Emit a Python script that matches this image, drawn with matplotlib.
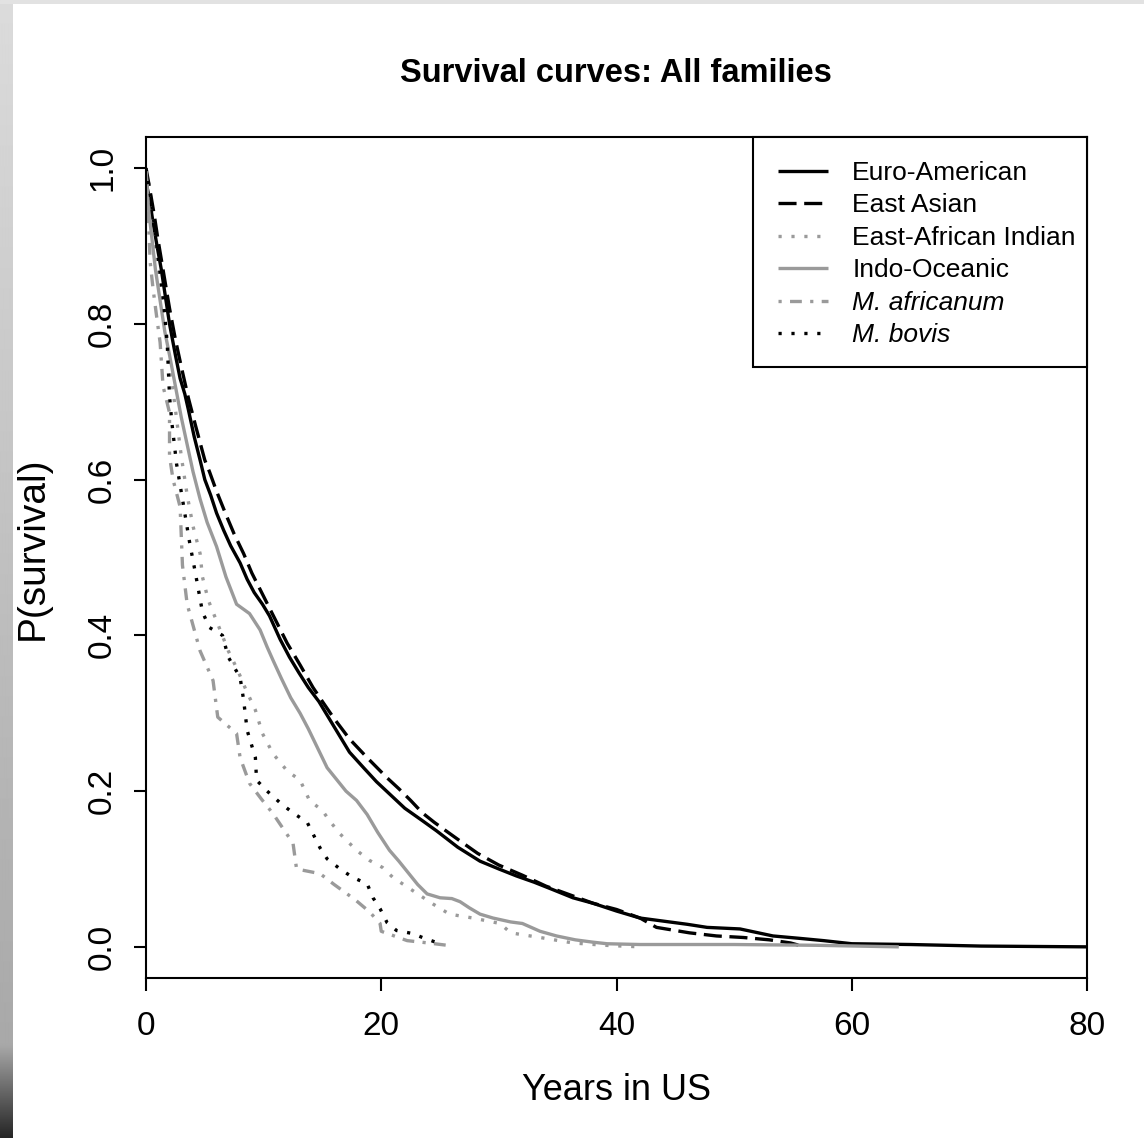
import numpy as np
import matplotlib
matplotlib.use("Agg")
import matplotlib.pyplot as plt
from matplotlib.patches import Rectangle

plt.rcParams['font.family'] = ['Liberation Sans', 'DejaVu Sans']
plt.rcParams['lines.scale_dashes'] = False

# Kaplan-Meier survival estimates by lineage (years in US, P(survival));
# a repeated time value marks a sharp drop in the estimate
euro_t = [0, 0.1, 0.3, 0.6, 0.94, 1.3, 1.7, 2.0, 2.5, 2.9, 3.3, 3.6, 4.1, 4.6, 5.0, 5.5,
          6.0, 6.6, 7.2, 8.0, 8.6, 9.2, 9.9, 10.5, 11.4, 12.2, 13.0, 13.8, 14.7, 15.5,
          16.5, 17.3, 18.5, 19.6, 20.8, 22.0, 23.5, 24.7, 26.5, 28.4, 30.0, 31.5, 33.0,
          34.5, 36.3, 38.0, 40.0, 42.0, 44.0, 46.0, 47.7, 50.5, 53.3, 55.5, 57.6, 60.0,
          65.0, 71.0, 80.0]
euro_s = [1.0, 0.975, 0.96, 0.93, 0.90, 0.87, 0.83, 0.80, 0.76, 0.73, 0.71, 0.69, 0.655,
          0.625, 0.60, 0.58, 0.557, 0.535, 0.515, 0.493, 0.472, 0.455, 0.44, 0.425, 0.395,
          0.372, 0.352, 0.333, 0.315, 0.295, 0.27, 0.25, 0.23, 0.212, 0.195, 0.178, 0.162,
          0.149, 0.128, 0.11, 0.10, 0.091, 0.083, 0.074, 0.063, 0.056, 0.046, 0.037, 0.033,
          0.029, 0.025, 0.023, 0.014, 0.011, 0.008, 0.004, 0.003, 0.001, 0.0]

asian_t = [0, 0.3, 0.7, 1.0, 1.5, 2.0, 2.5, 3.0, 3.6, 4.2, 5.0, 5.4, 6.0, 6.8, 7.5, 8.3,
           9.0, 10.0, 11.0, 12.0, 13.1, 14.2, 15.0, 16.0, 17.3, 18.8, 20.5, 21.5, 22.5,
           23.5, 24.5, 25.5, 26.7, 28.2, 30.0, 32.0, 34.0, 36.0, 38.0, 40.0, 42.0, 43.4,
           46.2, 48.5, 50.8, 53.0, 54.8, 56.0]
asian_s = [1.0, 0.975, 0.94, 0.91, 0.865, 0.82, 0.78, 0.745, 0.705, 0.67, 0.625, 0.61,
           0.585, 0.555, 0.53, 0.505, 0.48, 0.45, 0.42, 0.39, 0.362, 0.333, 0.315, 0.293,
           0.267, 0.243, 0.217, 0.203, 0.188, 0.172, 0.16, 0.149, 0.136, 0.12, 0.105,
           0.092, 0.078, 0.067, 0.056, 0.048, 0.037, 0.025, 0.018, 0.014, 0.012, 0.009,
           0.005, 0.0]

eai_t = [0, 0.3, 0.6, 1.0, 1.5, 2.0, 2.5, 3.0, 3.5, 4.0, 4.6, 4.8, 5.3, 6.3, 7.0, 7.8,
         8.5, 9.3, 9.9, 10.8, 12.0, 13.1, 13.9, 15.0, 15.6, 16.5, 17.9, 19.0, 20.1, 21.0,
         22.7, 24.4, 25.8, 27.8, 30.1, 31.0, 33.5, 36.3, 39.0, 42.0]
eai_s = [1.0, 0.96, 0.92, 0.87, 0.81, 0.75, 0.69, 0.63, 0.58, 0.54, 0.505, 0.475, 0.445,
         0.407, 0.38, 0.355, 0.33, 0.304, 0.274, 0.248, 0.226, 0.214, 0.188, 0.175, 0.162,
         0.145, 0.124, 0.111, 0.102, 0.089, 0.072, 0.055, 0.042, 0.037, 0.03, 0.018,
         0.012, 0.005, 0.002, 0.0]

indo_t = [0, 0.2, 0.5, 0.8, 1.2, 1.6, 2.0, 2.5, 3.0, 3.5, 4.0, 4.6, 5.2, 6.0, 6.8, 7.7,
          8.8, 9.7, 10.3, 10.8, 11.5, 12.3, 13.1, 13.8, 14.6, 15.4, 16.2, 17.0, 17.9,
          18.8, 19.7, 20.7, 21.5, 22.3, 23.1, 23.9, 25.0, 26.0, 26.7, 27.5, 28.4, 29.5,
          31.0, 32.0, 33.5, 34.9, 36.5, 38.0, 39.2, 42.0, 50.0, 57.0, 64.0]
indo_s = [1.0, 0.95, 0.91, 0.87, 0.83, 0.79, 0.76, 0.72, 0.68, 0.645, 0.61, 0.575, 0.545,
          0.514, 0.475, 0.44, 0.428, 0.407, 0.385, 0.368, 0.345, 0.32, 0.30, 0.28, 0.255,
          0.23, 0.215, 0.20, 0.188, 0.17, 0.147, 0.124, 0.11, 0.095, 0.08, 0.068, 0.063,
          0.062, 0.058, 0.05, 0.042, 0.037, 0.032, 0.03, 0.02, 0.014, 0.009, 0.006,
          0.004, 0.003, 0.003, 0.002, 0.0]

afr_t = [0, 0.2, 0.35, 0.6, 0.9, 1.2, 1.45, 2.0, 2.0, 2.3, 2.9, 3.1, 3.5, 4.6, 5.7, 6.1,
         7.7, 8.0, 8.8, 9.8, 10.8, 12.5, 12.8, 14.8, 16.0, 17.1, 17.9, 19.0, 19.9, 20.0,
         22.2, 24.0, 25.6, 26.0]
afr_s = [1.0, 0.94, 0.88, 0.845, 0.81, 0.776, 0.72, 0.686, 0.63, 0.60, 0.565, 0.49, 0.44,
         0.38, 0.342, 0.295, 0.274, 0.243, 0.21, 0.19, 0.171, 0.133, 0.10, 0.094, 0.08,
         0.068, 0.059, 0.045, 0.03, 0.02, 0.008, 0.005, 0.002, 0.0]

bovis_t = [0, 0.3, 0.6, 1.0, 1.45, 1.8, 2.0, 2.2, 2.6, 3.1, 3.7, 4.2, 4.8, 5.4, 6.5, 7.0,
           8.0, 8.3, 8.6, 9.3, 9.4, 10.3, 11.4, 12.5, 13.7, 14.2, 14.8, 15.4, 16.5, 17.6,
           18.8, 19.3, 19.9, 20.5, 21.3, 22.7, 23.5, 25.0]
bovis_s = [1.0, 0.973, 0.94, 0.89, 0.835, 0.776, 0.707, 0.673, 0.62, 0.575, 0.52, 0.48,
           0.43, 0.41, 0.40, 0.372, 0.346, 0.317, 0.278, 0.243, 0.214, 0.20, 0.185, 0.172,
           0.16, 0.145, 0.127, 0.113, 0.10, 0.089, 0.081, 0.063, 0.049, 0.031, 0.021,
           0.017, 0.012, 0.004]

labels = ["Euro-American", "East Asian", "East-African Indian", "Indo-Oceanic",
          "M. africanum", "M. bovis"]
x_ticks = [0, 20, 40, 60, 80]
y_ticks = [0.0, 0.2, 0.4, 0.6, 0.8, 1.0]

GREY = "#9a9a9a"
series = [
    (euro_t, euro_s, "black", "-"),
    (asian_t, asian_s, "black", (0, (13.0, 5.5))),
    (eai_t, eai_s, GREY, (0, (2.3, 7.0))),
    (indo_t, indo_s, GREY, "-"),
    (afr_t, afr_s, GREY, (0, (2.3, 6.0, 8.5, 6.0))),
    (bovis_t, bovis_s, "black", (0, (2.3, 7.0))),
]

W, H = 1144, 1138
fig = plt.figure(figsize=(W / 100, H / 100), dpi=100)
fig.patch.set_facecolor("white")

# brushed-metal frame on the left and top edges
frame_l = fig.add_axes([0, 0, 13 / W, 1])
shade = np.concatenate([np.linspace(0.86, 0.66, 1045), np.linspace(0.66, 0.15, 93)])
frame_l.imshow(np.tile(shade[:, None], (1, 4)), cmap="gray", vmin=0, vmax=1,
               aspect="auto", interpolation="bilinear")
frame_l.set_axis_off()
frame_t = fig.add_axes([0, 1 - 4 / H, 1, 4 / H])
frame_t.set_axis_off()
frame_t.add_patch(Rectangle((0, 0), 1, 1, color="#e2e2e2", transform=frame_t.transAxes))

AX_L, AX_R, AX_T, AX_B = 146, 1087, 137, 978
ax = fig.add_axes([AX_L / W, (H - AX_B) / H, (AX_R - AX_L) / W, (AX_B - AX_T) / H])


def ax_xy(px, py):
    """Pixel position on the canvas -> axes fraction."""
    return (px - AX_L) / (AX_R - AX_L), (AX_B - py) / (AX_B - AX_T)


for (t, s, c, ls), lab in zip(series, labels):
    ax.plot(t, s, color=c, linestyle=ls, lw=2.4, dash_capstyle="butt",
            solid_capstyle="butt", solid_joinstyle="miter", label=lab)

ax.set_xlim(0, 80)
ax.set_ylim(-0.04, 1.04)
ax.set_xticks(x_ticks)
ax.set_xticklabels([str(v) for v in x_ticks])
ax.set_yticks(y_ticks)
ax.set_yticklabels([f"{v:.1f}" for v in y_ticks])
for sp in ax.spines.values():
    sp.set_linewidth(1.5)
ax.tick_params(direction="out", length=9, width=1.5, labelsize=24)
ax.tick_params(axis="x", pad=15)
ax.tick_params(axis="y", pad=11)
for lbl in ax.get_yticklabels():
    lbl.set_rotation(90)
    lbl.set_va("center")

ax.set_xlabel("Years in US", fontsize=26, va="center")
ax.xaxis.set_label_coords(*ax_xy(617, 1091))
ax.set_ylabel("P(survival)", fontsize=28, va="center", ha="center")
ax.yaxis.set_label_coords(*ax_xy(33, 548))
ax.text(*ax_xy(616, 74), "Survival curves: All families", transform=ax.transAxes,
        fontsize=23.5, fontweight="bold", ha="center", va="center")

# legend box spans from the top-right corner of the plot region
lx0, ly0 = ax_xy(753, 367)
lx1, ly1 = ax_xy(AX_R, AX_T)
ax.add_patch(Rectangle((lx0, ly0), lx1 - lx0, ly1 - ly0, transform=ax.transAxes,
                       facecolor="white", edgecolor="black", lw=1.5, zorder=5,
                       clip_on=False))
leg = ax.legend(loc="upper left", bbox_to_anchor=ax_xy(778, 161), borderaxespad=0,
                borderpad=0, fontsize=19, frameon=False, handlelength=1.9,
                handletextpad=0.91, labelspacing=0.32)
leg.set_zorder(6)
for txt in leg.get_texts()[4:]:
    txt.set_fontstyle("italic")

fig.savefig("out.png", dpi=100, facecolor="white")
